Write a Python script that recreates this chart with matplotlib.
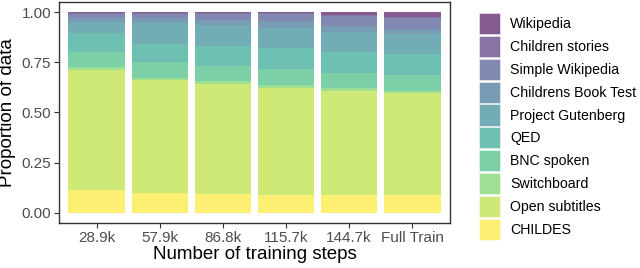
import matplotlib
matplotlib.use('Agg')
import matplotlib.pyplot as plt
from matplotlib.patches import Patch

plt.rcParams['font.family'] = ['Liberation Sans', 'DejaVu Sans']

steps = ['28.9k', '57.9k', '86.8k', '115.7k', '144.7k', 'Full Train']

# proporção de cada fonte em cada checkpoint (de baixo para cima na pilha)
childes = [0.112, 0.099, 0.094, 0.089, 0.088, 0.088]
open_subtitles = [0.601, 0.562, 0.546, 0.535, 0.519, 0.508]
switchboard = [0.015, 0.013, 0.015, 0.011, 0.013, 0.013]
bnc_spoken = [0.074, 0.075, 0.075, 0.080, 0.079, 0.079]
qed = [0.094, 0.094, 0.102, 0.104, 0.104, 0.104]
gutenberg = [0.054, 0.104, 0.104, 0.104, 0.099, 0.097]
book_test = [0.020, 0.022, 0.025, 0.030, 0.030, 0.025]
simple_wiki = [0.020, 0.023, 0.031, 0.036, 0.049, 0.058]
children_stories = [0.005, 0.004, 0.004, 0.005, 0.006, 0.002]
wikipedia = [0.005, 0.004, 0.004, 0.006, 0.014, 0.026]

fontes = ['CHILDES', 'Open subtitles', 'Switchboard', 'BNC spoken', 'QED',
          'Project Gutenberg', 'Childrens Book Test', 'Simple Wikipedia',
          'Children stories', 'Wikipedia']
valores = [childes, open_subtitles, switchboard, bnc_spoken, qed,
           gutenberg, book_test, simple_wiki, children_stories, wikipedia]
cores = ['#FDE725', '#B4DE2C', '#6DCD59', '#35B779', '#1F9E89',
         '#26828E', '#31688E', '#3E4A89', '#482878', '#440154']
alpha = 0.65

fig = plt.figure(figsize=(6.4, 2.68), dpi=100)
ax = fig.add_axes([59 / 640, 45 / 268, 391 / 640, 221 / 268])

x = list(range(len(steps)))
base = [0.0] * len(steps)
for nome, v, c in zip(fontes, valores, cores):
    ax.bar(x, v, bottom=base, width=0.9, color=c, alpha=alpha, linewidth=0)
    base = [b + vi for b, vi in zip(base, v)]

ax.set_xlim(-0.6, 5.6)
ax.set_ylim(-0.05, 1.05)
ax.set_xticks(x)
ax.set_xticklabels(steps)
ax.set_yticks([0, 0.25, 0.5, 0.75, 1.0])
ax.set_yticklabels(['0.00', '0.25', '0.50', '0.75', '1.00'])
ax.tick_params(labelsize=11, labelcolor='#4D4D4D', color='#333333',
               length=3.5, width=0.8, pad=2)
for s in ax.spines.values():
    s.set_color('#333333')
    s.set_linewidth(1.0)

ax.set_xlabel('Number of training steps', fontsize=13.5, labelpad=1)
ax.set_ylabel('Proportion of data', fontsize=13.5, labelpad=4)

handles = [Patch(facecolor=c, alpha=alpha, edgecolor='white', linewidth=0.5)
           for c in cores[::-1]]
fig.legend(handles, fontes[::-1], loc='upper left',
           bbox_to_anchor=(479 / 640, 1 - 13 / 268), frameon=False,
           fontsize=10.2, handlelength=1.48, handleheight=1.92,
           handletextpad=0.7, labelspacing=0.12, borderaxespad=0,
           borderpad=0)

fig.savefig('out.png', dpi=100)
